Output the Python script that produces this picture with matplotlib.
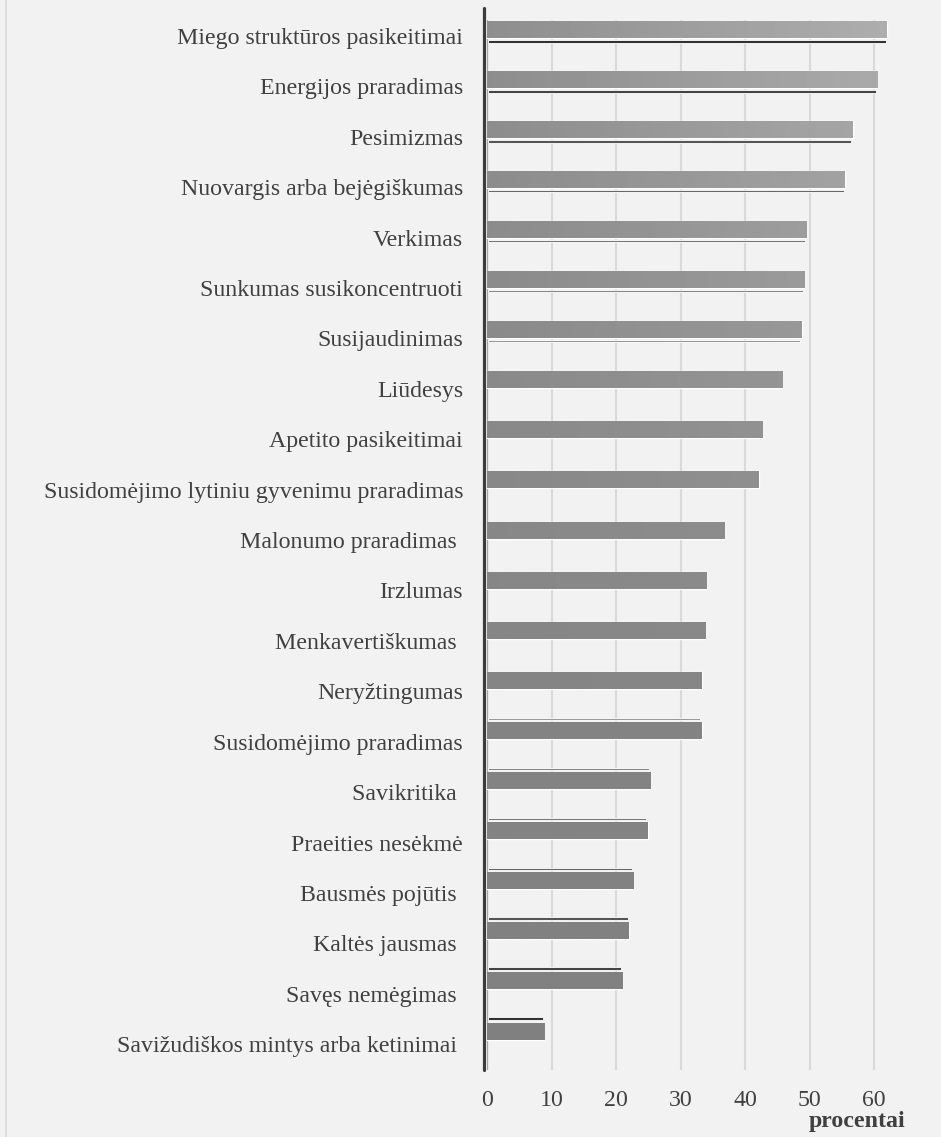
import numpy as np
import matplotlib
matplotlib.use("Agg")
import matplotlib.pyplot as plt
from matplotlib import transforms

categories = [
    "Miego struktūros pasikeitimai",
    "Energijos praradimas",
    "Pesimizmas",
    "Nuovargis arba bejėgiškumas",
    "Verkimas",
    "Sunkumas susikoncentruoti",
    "Susijaudinimas",
    "Liūdesys",
    "Apetito pasikeitimai",
    "Susidomėjimo lytiniu gyvenimu praradimas",
    "Malonumo praradimas ",
    "Irzlumas",
    "Menkavertiškumas ",
    "Neryžtingumas",
    "Susidomėjimo praradimas",
    "Savikritika ",
    "Praeities nesėkmė",
    "Bausmės pojūtis ",
    "Kaltės jausmas ",
    "Savęs nemėgimas ",
    "Savižudiškos mintys arba ketinimai ",
]
values = [62.0, 60.5, 56.7, 55.5, 49.5, 49.2, 48.8, 45.8, 42.7, 42.1,
          36.8, 34.0, 33.8, 33.3, 33.3, 25.3, 24.9, 22.7, 22.0, 21.0, 8.9]
xticks = [0, 10, 20, 30, 40, 50, 60]
xlabel = "procentai"

plt.rcParams["font.family"] = ["Liberation Serif", "DejaVu Serif"]
TEXT = "#404040"
BG = "#f2f2f2"
FS = 17.2

W, H, DPI = 941, 1137, 100
fig = plt.figure(figsize=(W / DPI, H / DPI), dpi=DPI, facecolor=BG)

x0_px, px_per_unit = 487.0, 6.45
xmax = 66
top_px, bot_px = 20.0, 1070.0
row_px = 50.1
ymin_top = -0.18
ymax_bot = ymin_top + (bot_px - top_px) / row_px

ax = fig.add_axes([x0_px / W, 1 - bot_px / H,
                   xmax * px_per_unit / W, (bot_px - top_px) / H])
ax.set_facecolor(BG)
for s in ax.spines.values():
    s.set_visible(False)

n = len(categories)
pos = np.arange(n)
bar_h = 17.0 / row_px

ax.set_axisbelow(True)
ax.xaxis.grid(True, color="#d9d9d9", lw=1.5)
ax.yaxis.grid(False)

# light floor strip and dark value axis
ax.axvline(0, color="#a6a6a6", lw=1.6, zorder=1)
ax.plot([-0.47, -0.47], [ymin_top - 12 / row_px, ymax_bot], color="#3c3c3c",
        lw=2.3, solid_capstyle="round", clip_on=False, zorder=5)

bars = ax.barh(pos, values, height=bar_h, color="#888888",
               edgecolor="white", linewidth=1.0, zorder=3)

# horizontal shading across each bar
for i, (patch, v) in enumerate(zip(bars.patches, values)):
    left = 142 - 14 * i / (n - 1)
    slope = 0.5 * max(0.0, 1 - i / 14)
    grad = np.linspace(left, left + slope * v, 128)[None, :] / 255.0
    im = ax.imshow(grad, cmap="gray", vmin=0, vmax=1, aspect="auto",
                   extent=(0, v, i + bar_h / 2, i - bar_h / 2),
                   interpolation="bilinear", zorder=3.1)
    im.set_clip_path(patch)

# perspective edge of each bar (below for upper rows, above for lower rows)
mid = (n - 1) / 2
for i, v in enumerate(values):
    t = (i - mid) / mid
    vis = max(0.0, (abs(t) - 0.25) / 0.75) * 2.7
    if vis < 0.4:
        continue
    shade = 0.70 - 0.50 * min(1.0, vis / 2.7)
    draw_h = vis + 0.8
    gap = 2.2
    if t < 0:
        yc = i + bar_h / 2 + (gap + draw_h / 2) / row_px
    else:
        yc = i - bar_h / 2 - (gap + draw_h / 2) / row_px
    ax.barh([yc], [v - 0.35], left=0.15, height=draw_h / row_px,
            color=str(shade), edgecolor="white", linewidth=0.6, zorder=3)

ax.set_xlim(0, xmax)
ax.set_ylim(ymax_bot, ymin_top)

ax.set_xticks(xticks)
ax.set_xticklabels([str(t) for t in xticks], fontsize=FS, color=TEXT)
ax.tick_params(axis="x", length=0, pad=14.5)
ax.set_yticks([])

# category labels
for i, lab in enumerate(categories):
    dy = 14.8 + 0.325 * i
    tr = transforms.blended_transform_factory(ax.transAxes, ax.transData) + \
        transforms.ScaledTranslation(-24 / DPI, -dy / DPI, fig.dpi_scale_trans)
    ax.text(0, i, lab, transform=tr, ha="right", va="baseline",
            fontsize=FS, color=TEXT)

fig.text(857 / W, 1 - 1121 / H, xlabel, ha="center", va="center",
         fontsize=FS, fontweight="bold", color=TEXT)

# outer chart border
fig.add_artist(plt.Line2D([5.5 / W, 5.5 / W], [0, 1], color="#d9d9d9",
                          lw=1.2, transform=fig.transFigure))

fig.savefig("out.png", dpi=DPI, facecolor=BG)
